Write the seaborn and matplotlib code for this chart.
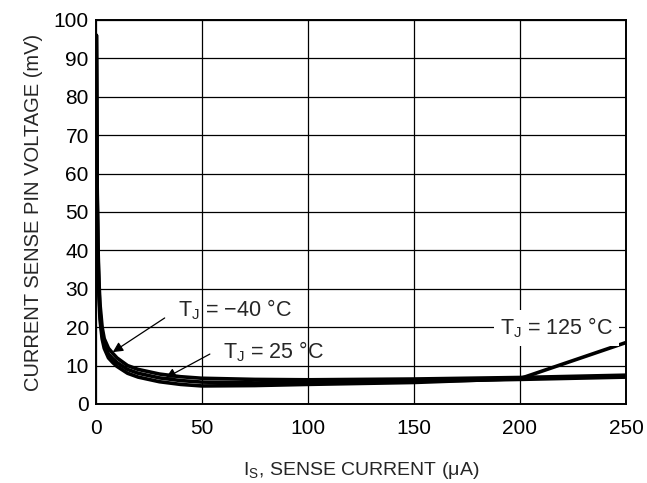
import matplotlib
matplotlib.use("Agg")
import matplotlib.pyplot as plt
import seaborn as sns
import pandas as pd

# Sense current (uA) and pin voltage (mV) for each junction temperature
current_ua = [0.3, 0.6, 1, 1.5, 2, 3, 4, 6, 8, 10, 15, 20, 30, 40, 50, 75, 100, 150, 200, 250]
v_m40 = [96, 60, 42, 32, 26, 20, 17, 14.5, 13.2, 12.0, 10.0, 9.0, 7.8, 7.1, 6.7, 6.4, 6.3, 6.5, 6.9, 7.5]
v_25 = [96, 58, 40, 30, 24, 18, 15.5, 13.0, 11.8, 10.8, 9.0, 8.0, 6.8, 6.1, 5.7, 5.5, 5.6, 5.9, 6.4, 7.0]
v_125 = [96, 56, 38, 28, 22, 17, 14.5, 12.0, 10.8, 9.8, 8.0, 7.0, 5.8, 5.1, 4.7, 4.8, 5.1, 5.6, 6.6, 16.0]

x_ticks = [0, 50, 100, 150, 200, 250]
y_ticks = list(range(0, 101, 10))

sns.set_style("white")
plt.rcParams['font.family'] = ['Liberation Sans', 'DejaVu Sans']
plt.rcParams['mathtext.fontset'] = 'custom'
plt.rcParams['mathtext.rm'] = 'Liberation Sans'
plt.rcParams['mathtext.it'] = 'Liberation Sans'

df = pd.concat([
    pd.DataFrame({'I': current_ua, 'V': v_m40, 'T': '-40'}),
    pd.DataFrame({'I': current_ua, 'V': v_25, 'T': '25'}),
    pd.DataFrame({'I': current_ua, 'V': v_125, 'T': '125'}),
])

fig = plt.figure(figsize=(6.47, 4.83), dpi=100)
ax = fig.add_axes([0.148, 0.1636, 0.8195, 0.795])

sns.lineplot(data=df, x='I', y='V', hue='T', palette=['black'] * 3,
             linewidth=2.6, legend=False, ax=ax, sort=False)

ax.set_xlim(0, 250)
ax.set_ylim(0, 100)
ax.set_xticks(x_ticks)
ax.set_yticks(y_ticks)
ax.grid(True, color='black', linewidth=0.9)
for s in ax.spines.values():
    s.set_color('black')
    s.set_linewidth(1.4)
ax.tick_params(axis='both', length=0, labelsize=15, colors='black')
ax.tick_params(axis='x', pad=11)
ax.tick_params(axis='y', pad=5)

ax.set_xlabel(r'I$_\mathregular{S}$, SENSE CURRENT ($\mu$A)', fontsize=14, labelpad=16)
ax.set_ylabel('CURRENT SENSE PIN VOLTAGE (mV)', fontsize=14.5, labelpad=8)

arrow = dict(arrowstyle='-|>', color='black', lw=0.9, mutation_scale=15, shrinkA=0, shrinkB=0)
ax.annotate('', xy=(8, 13.5), xytext=(32.5, 22.4), arrowprops=arrow)
ax.annotate('', xy=(33, 6.8), xytext=(53.8, 13.0), arrowprops=arrow)

ax.text(38.7, 24.5, r'T$_\mathregular{J}$ = −40 °C', fontsize=15.5, va='center', ha='left')
ax.text(60, 13.5, r'T$_\mathregular{J}$ = 25 °C', fontsize=15.5, va='center', ha='left')
ax.text(190.6, 19.8, r'T$_\mathregular{J}$ = 125 °C', fontsize=15.5, va='center', ha='left',
        bbox=dict(facecolor='white', edgecolor='none', pad=4))

fig.savefig('out.png', dpi=100)
